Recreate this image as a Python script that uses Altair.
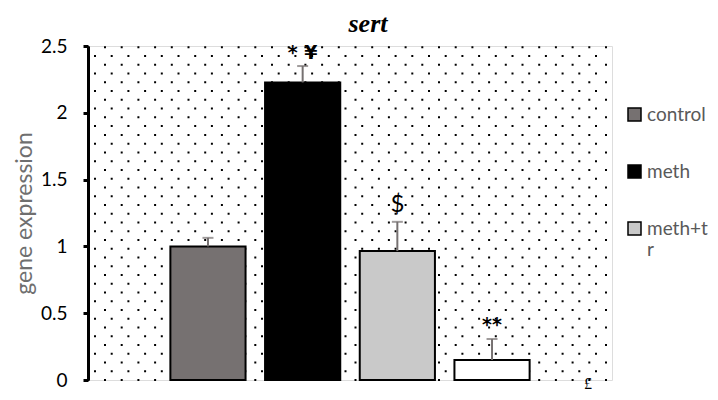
import altair as alt
import pandas as pd

# ---- data ----
groups = ["control", "meth", "meth+tr", "tr"]
values = [1.0, 2.227, 0.965, 0.15]
errors = [0.064, 0.123, 0.219, 0.157]
colors = ["#767171", "#000000", "#c9c9c9", "#ffffff"]
star_labels = ["", "* \u00a5", "", "**"]
star_y = [0.0, 2.45, 0.0, 0.41]
dollar_labels = ["", "", "$", ""]
dollar_y = [0.0, 0.0, 1.31, 0.0]
pound_label = ["\u00a3"]
pound_group = ["tr"]
pound_y = [-0.07]
y_ticks = [0, 0.5, 1, 1.5, 2, 2.5]

df = pd.DataFrame({"group": groups, "value": values, "err": errors})
df["top"] = df["value"] + df["err"]

stars = pd.DataFrame({"group": groups, "label": star_labels, "y": star_y})
stars = stars[stars.label != ""]
dollars = pd.DataFrame({"group": groups, "label": dollar_labels, "y": dollar_y})
dollars = dollars[dollars.label != ""]
pound = pd.DataFrame({"group": pound_group, "label": pound_label, "y": pound_y})

# dotted background texture (staggered rows of dots)
n_rows = 39
row_step = 2.49 / (n_rows - 1)
rows = pd.DataFrame({"y": [2.49 - i * row_step for i in range(n_rows)], "i": list(range(n_rows))})
rows_a = rows[rows.i % 2 == 0]
rows_b = rows[rows.i % 2 == 1]

W, H = 524, 334
yscale = alt.Scale(domain=[0, 2.5], nice=False, zero=True)
yaxis = alt.Axis(values=y_ticks, format="~g", grid=False, domainColor="black", domainWidth=3,
                 tickColor="black", tickWidth=3, tickSize=5, labelPadding=16,
                 labelFont="Lato", labelFontSize=19, labelColor="black",
                 titleFont="Lato", titleFontSize=23, titleColor="#6f6f6f",
                 titleFontWeight="normal", titlePadding=4)
ytitle = "gene expression"
xenc = alt.X("group:N", sort=groups, axis=None,
             scale=alt.Scale(domain=groups, paddingInner=0.206, paddingOuter=0.87))

dots_a = alt.Chart(rows_a).mark_rule(
    color="black", strokeWidth=2, strokeDash=[2, 14.7], strokeDashOffset=0.7, strokeCap="butt"
).encode(y=alt.Y("y:Q", scale=yscale, axis=yaxis, title=ytitle), x=alt.value(0), x2=alt.value(W - 4))
dots_b = alt.Chart(rows_b).mark_rule(
    color="black", strokeWidth=2, strokeDash=[2, 14.7], strokeDashOffset=10.7, strokeCap="butt"
).encode(y=alt.Y("y:Q", scale=yscale, axis=yaxis, title=ytitle), x=alt.value(0), x2=alt.value(W - 4))

bars = alt.Chart(df).mark_bar(stroke="black", strokeWidth=2).encode(
    x=xenc,
    y=alt.Y("value:Q", scale=yscale, axis=yaxis, title=ytitle),
    color=alt.Color("group:N", scale=alt.Scale(domain=groups, range=colors),
                    legend=alt.Legend(title=None, orient="none", legendX=537, legendY=59,
                                      direction="vertical", values=groups[:3],
                                      symbolType="square", symbolSize=169,
                                      symbolStrokeColor="black", symbolStrokeWidth=1.5,
                                      labelFont="Lato", labelFontSize=19, labelColor="#595959",
                                      labelOffset=3, rowPadding=37, labelLimit=200,
                                      labelExpr="datum.label == 'meth+tr' ? ['meth+t', 'r'] : datum.label")),
)

err_rule = alt.Chart(df).mark_rule(color="#767171", strokeWidth=2).encode(
    x=xenc, y=alt.Y("value:Q", scale=yscale, axis=yaxis, title=ytitle), y2="top:Q")
err_cap = alt.Chart(df).mark_tick(color="#767171", thickness=2, size=11).encode(
    x=xenc, y=alt.Y("top:Q", scale=yscale, axis=yaxis, title=ytitle))

star_text = alt.Chart(stars).mark_text(font="DejaVu Sans", fontSize=19, fontWeight="bold",
                                       color="black", baseline="middle").encode(
    x=xenc, y=alt.Y("y:Q", scale=yscale, axis=yaxis, title=ytitle), text="label:N")
dollar_text = alt.Chart(dollars).mark_text(font="Lato", fontSize=24, color="black",
                                           baseline="middle").encode(
    x=xenc, y=alt.Y("y:Q", scale=yscale, axis=yaxis, title=ytitle), text="label:N")
pound_text = alt.Chart(pound).mark_text(font="Liberation Serif", fontSize=16, color="black",
                                        baseline="alphabetic", dx=96).encode(
    x=xenc, y=alt.Y("y:Q", scale=yscale, axis=yaxis, title=ytitle), text="label:N")

chart = alt.layer(dots_a, dots_b, bars, err_rule, err_cap, star_text, dollar_text, pound_text).properties(
    width=W, height=H,
    title=alt.TitleParams("sert", font="Liberation Serif", fontSize=26, fontWeight="bold",
                          fontStyle="italic", color="black", anchor="middle", dx=18, offset=0),
    autosize=alt.AutoSizeParams(type="none"),
    padding={"left": 80, "top": 38, "right": 98, "bottom": 12},
).configure_view(stroke=None).configure(background="white")

chart.save("out.html", embed_options={"renderer": "svg", "actions": False})
